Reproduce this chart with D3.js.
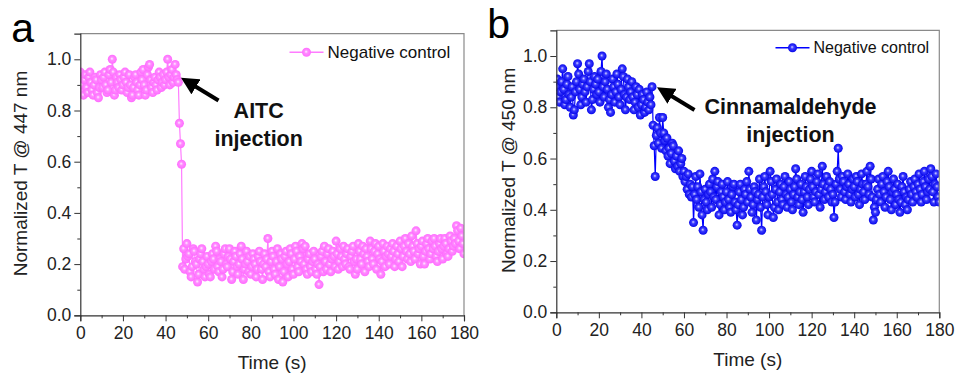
<!DOCTYPE html>
<html>
<head>
<meta charset="utf-8">
<script src="https://cdn.jsdelivr.net/npm/d3@7"></script>
<style>
  body { margin: 0; background: #fff; }
  text { font-family: Arial, "Liberation Sans", sans-serif; }
</style>
</head>
<body>
<script>
// sampling interval of both traces (s)
const timeStep = 0.5;

// panel a: normalized T @ 447 nm, AITC injection
const aitcValues = [
  0.95, 0.90, 0.87, 0.86, 0.92, 0.94, 0.89, 0.87, 0.93, 0.95,
  0.91, 0.88, 0.86, 0.90, 0.93, 0.92, 0.87, 0.85, 0.89, 0.94,
  0.92, 0.89, 0.93, 0.95, 0.90, 0.87, 0.88, 0.94, 0.96, 0.91,
  1.00, 0.95, 0.86, 0.88, 0.93, 0.91, 0.89, 0.94, 0.92, 0.88,
  0.90, 0.93, 0.95, 0.91, 0.87, 0.89, 0.94, 0.90, 0.85, 0.86,
  0.89, 0.93, 0.94, 0.91, 0.88, 0.86, 0.90, 0.95, 0.92, 0.96,
  0.90, 0.86, 0.88, 0.94, 0.97, 0.98, 0.92, 0.89, 0.87, 0.91,
  0.93, 0.90, 0.88, 0.92, 0.95, 0.93, 0.89, 0.91, 0.94, 0.90,
  0.92, 0.95, 1.00, 0.93, 0.90, 0.94, 0.96, 0.91, 0.93, 0.98,
  0.94, 0.92, 0.91, 0.75, 0.67, 0.59, 0.19, 0.26, 0.18, 0.22,
  0.28, 0.23, 0.24, 0.17, 0.15, 0.19, 0.26, 0.25, 0.21, 0.20,
  0.13, 0.16, 0.22, 0.24, 0.26, 0.21, 0.18, 0.15, 0.19, 0.23,
  0.20, 0.16, 0.15, 0.21, 0.24, 0.22, 0.18, 0.27, 0.25, 0.19,
  0.17, 0.22, 0.21, 0.15, 0.18, 0.24, 0.26, 0.20, 0.19, 0.23,
  0.26, 0.22, 0.14, 0.17, 0.21, 0.25, 0.23, 0.19, 0.16, 0.20,
  0.24, 0.27, 0.22, 0.14, 0.18, 0.20, 0.25, 0.21, 0.17, 0.23,
  0.16, 0.19, 0.24, 0.22, 0.20, 0.15, 0.18, 0.23, 0.25, 0.21,
  0.18, 0.14, 0.20, 0.24, 0.19, 0.22, 0.30, 0.17, 0.15, 0.21,
  0.25, 0.23, 0.18, 0.16, 0.21, 0.26, 0.14, 0.19, 0.24, 0.22,
  0.13, 0.17, 0.23, 0.25, 0.20, 0.15, 0.21, 0.26, 0.24, 0.18,
  0.16, 0.22, 0.27, 0.25, 0.19, 0.17, 0.23, 0.21, 0.28, 0.26,
  0.20, 0.27, 0.18, 0.16, 0.22, 0.24, 0.19, 0.17, 0.21, 0.25,
  0.22, 0.18, 0.16, 0.20, 0.12, 0.19, 0.23, 0.25, 0.17, 0.27,
  0.21, 0.18, 0.24, 0.26, 0.20, 0.17, 0.22, 0.25, 0.23, 0.19,
  0.29, 0.24, 0.18, 0.21, 0.26, 0.23, 0.19, 0.27, 0.22, 0.20,
  0.24, 0.26, 0.19, 0.18, 0.23, 0.25, 0.27, 0.21, 0.16, 0.22,
  0.18, 0.28, 0.25, 0.22, 0.20, 0.27, 0.24, 0.17, 0.26, 0.23,
  0.21, 0.19, 0.29, 0.26, 0.22, 0.20, 0.25, 0.28, 0.18, 0.24,
  0.27, 0.22, 0.16, 0.21, 0.28, 0.25, 0.19, 0.23, 0.27, 0.24,
  0.20, 0.26, 0.23, 0.28, 0.25, 0.19, 0.22, 0.27, 0.24, 0.21,
  0.29, 0.26, 0.19, 0.23, 0.27, 0.30, 0.25, 0.22, 0.28, 0.24,
  0.21, 0.31, 0.27, 0.25, 0.22, 0.33, 0.28, 0.24, 0.26, 0.20,
  0.27, 0.29, 0.23, 0.20, 0.25, 0.28, 0.30, 0.26, 0.22, 0.24,
  0.29, 0.26, 0.30, 0.27, 0.23, 0.21, 0.25, 0.28, 0.30, 0.26,
  0.22, 0.27, 0.30, 0.28, 0.24, 0.23, 0.26, 0.31, 0.29, 0.25,
  0.27, 0.30, 0.28, 0.35, 0.33, 0.29, 0.26, 0.34, 0.31, 0.28,
  0.24
];

// panel b: normalized T @ 450 nm, cinnamaldehyde injection
const cinnValues = [
  0.88, 0.91, 0.84, 0.82, 0.86, 0.90, 0.95, 0.87, 0.81, 0.83,
  0.89, 0.92, 0.85, 0.80, 0.84, 0.88, 0.77, 0.79, 0.86, 0.90,
  0.97, 0.93, 0.87, 0.81, 0.84, 0.89, 0.91, 0.86, 0.82, 0.88,
  0.94, 0.97, 0.90, 0.79, 0.83, 0.87, 0.92, 0.89, 0.85, 0.91,
  0.86, 0.82, 0.94, 1.00, 0.88, 0.84, 0.90, 0.93, 0.87, 0.80,
  0.83, 0.78, 0.85, 0.91, 0.88, 0.82, 0.86, 0.93, 0.89, 0.84,
  0.81, 0.87, 0.95, 0.92, 0.85, 0.79, 0.84, 0.91, 0.88, 0.83,
  0.86, 0.90, 0.84, 0.79, 0.82, 0.88, 0.85, 0.80, 0.87, 0.77,
  0.81, 0.85, 0.83, 0.78, 0.80, 0.86, 0.82, 0.79, 0.84, 0.81,
  0.88, 0.73, 0.65, 0.53, 0.69, 0.72, 0.66, 0.76, 0.70, 0.64,
  0.76, 0.70, 0.67, 0.63, 0.68, 0.61, 0.64, 0.58, 0.62, 0.66,
  0.65, 0.59, 0.56, 0.61, 0.57, 0.63, 0.55, 0.58, 0.60, 0.53,
  0.55, 0.51, 0.53, 0.48, 0.54, 0.46, 0.50, 0.45, 0.49, 0.35,
  0.46, 0.53, 0.44, 0.49, 0.41, 0.54, 0.47, 0.38, 0.32, 0.44,
  0.48, 0.43, 0.40, 0.46, 0.50, 0.47, 0.41, 0.52, 0.45, 0.55,
  0.44, 0.49, 0.51, 0.38, 0.42, 0.47, 0.50, 0.45, 0.40, 0.43,
  0.47, 0.51, 0.44, 0.41, 0.39, 0.46, 0.49, 0.50, 0.43, 0.40,
  0.34, 0.42, 0.47, 0.50, 0.44, 0.38, 0.41, 0.48, 0.46, 0.51,
  0.43, 0.55, 0.48, 0.45, 0.39, 0.42, 0.49, 0.47, 0.36, 0.44,
  0.46, 0.52, 0.41, 0.32, 0.45, 0.49, 0.53, 0.47, 0.42, 0.38,
  0.45, 0.55, 0.51, 0.46, 0.37, 0.41, 0.48, 0.52, 0.43, 0.40,
  0.47, 0.50, 0.44, 0.42, 0.49, 0.53, 0.46, 0.41, 0.45, 0.51,
  0.48, 0.43, 0.40, 0.46, 0.49, 0.56, 0.52, 0.45, 0.42, 0.47,
  0.50, 0.44, 0.39, 0.47, 0.53, 0.49, 0.45, 0.42, 0.48, 0.52,
  0.55, 0.49, 0.45, 0.43, 0.47, 0.51, 0.54, 0.46, 0.41, 0.48,
  0.57, 0.50, 0.44, 0.47, 0.53, 0.49, 0.45, 0.51, 0.48, 0.43,
  0.46, 0.37, 0.43, 0.50, 0.55, 0.64, 0.52, 0.48, 0.45, 0.53,
  0.51, 0.47, 0.44, 0.49, 0.54, 0.50, 0.46, 0.43, 0.48, 0.52,
  0.49, 0.45, 0.53, 0.51, 0.46, 0.42, 0.48, 0.54, 0.50, 0.47,
  0.44, 0.50, 0.55, 0.49, 0.46, 0.57, 0.52, 0.45, 0.36, 0.41,
  0.39, 0.44, 0.48, 0.52, 0.46, 0.43, 0.50, 0.53, 0.47, 0.41,
  0.45, 0.51, 0.55, 0.49, 0.44, 0.40, 0.47, 0.52, 0.48, 0.42,
  0.46, 0.50, 0.44, 0.39, 0.43, 0.49, 0.53, 0.47, 0.42, 0.45,
  0.40, 0.44, 0.48, 0.51, 0.46, 0.43, 0.49, 0.52, 0.47, 0.45,
  0.50, 0.54, 0.48, 0.43, 0.46, 0.51, 0.55, 0.49, 0.44, 0.47,
  0.52, 0.48, 0.56, 0.53, 0.47, 0.43, 0.50, 0.54, 0.49, 0.45,
  0.43
];

const xTicks = [0, 20, 40, 60, 80, 100, 120, 140, 160, 180];
const xMinorTicks = [10, 30, 50, 70, 90, 110, 130, 150, 170];
const yTicks = [0.0, 0.2, 0.4, 0.6, 0.8, 1.0];
const yMinorTicks = [0.1, 0.3, 0.5, 0.7, 0.9];
const legendLabel = "Negative control";
const xTitle = "Time (s)";

const svg = d3.select("body").append("svg")
  .attr("width", 956)
  .attr("height", 374);

const defs = svg.append("defs");

function ballGradient(id, c0, c1, c2) {
  const g = defs.append("radialGradient")
    .attr("id", id)
    .attr("cx", "50%").attr("cy", "50%").attr("r", "55%")
    .attr("fx", "45%").attr("fy", "42%");
  g.append("stop").attr("offset", "0%").attr("stop-color", c0);
  g.append("stop").attr("offset", "35%").attr("stop-color", c1);
  g.append("stop").attr("offset", "100%").attr("stop-color", c2);
}
ballGradient("ballPink", "#fff0ff", "#ff8cff", "#ff66ff");
ballGradient("ballBlue", "#d8d8ff", "#3a3aff", "#0000e6");

defs.append("marker")
  .attr("id", "arrowHead")
  .attr("viewBox", "0 0 10 10")
  .attr("refX", 2).attr("refY", 5)
  .attr("markerWidth", 4.4).attr("markerHeight", 4.4)
  .attr("markerUnits", "strokeWidth")
  .attr("orient", "auto")
  .append("path")
  .attr("d", "M0,0 L10,5 L0,10 z")
  .attr("fill", "#000");

function drawPanel(p) {
  const x = d3.scaleLinear().domain([0, 180]).range([p.left, p.right]);
  const y = d3.scaleLinear().domain([0, 1.1]).range([p.bottom, p.top]);
  const g = svg.append("g");

  const clipId = "clip" + p.letter;
  defs.append("clipPath").attr("id", clipId)
    .append("rect")
    .attr("x", p.left).attr("y", p.top)
    .attr("width", p.right - p.left).attr("height", p.bottom - p.top);

  const points = p.values.map((v, i) => ({ t: i * timeStep, v: v }));

  const plot = g.append("g").attr("clip-path", `url(#${clipId})`);
  plot.append("path")
    .datum(points)
    .attr("fill", "none")
    .attr("stroke", p.color)
    .attr("stroke-width", 1.2)
    .attr("d", d3.line().x(d => x(d.t)).y(d => y(d.v)));

  plot.selectAll("circle")
    .data(points)
    .enter()
    .append("circle")
    .attr("cx", d => x(d.t))
    .attr("cy", d => y(d.v))
    .attr("r", 4.5)
    .attr("fill", `url(#${p.ball})`);

  // frame (top / right)
  g.append("path")
    .attr("d", `M${p.left},${p.top}H${p.right}V${p.bottom}`)
    .attr("fill", "none")
    .attr("stroke", "#8a8a8a")
    .attr("stroke-width", 1.2);

  // bottom axis
  g.append("g")
    .attr("transform", `translate(0,${p.bottom})`)
    .call(d3.axisBottom(x).tickValues(xTicks).tickSize(6).tickPadding(5).tickFormat(d3.format("d")));
  g.append("g")
    .attr("transform", `translate(0,${p.bottom})`)
    .call(d3.axisBottom(x).tickValues(xMinorTicks).tickSize(3).tickFormat(""))
    .select(".domain").remove();

  // left axis
  g.append("g")
    .attr("transform", `translate(${p.left},0)`)
    .call(d3.axisLeft(y).tickValues(yTicks).tickSize(6).tickPadding(3).tickFormat(d3.format(".1f")));
  g.append("g")
    .attr("transform", `translate(${p.left},0)`)
    .call(d3.axisLeft(y).tickValues(yMinorTicks).tickSize(3).tickFormat(""))
    .select(".domain").remove();

  g.selectAll(".domain").attr("stroke", "#333").attr("stroke-width", 1.2);
  g.selectAll(".tick line").attr("stroke", "#333").attr("stroke-width", 1);
  g.selectAll(".tick text")
    .attr("fill", "#222")
    .style("font-size", "17.5px")
    .style("font-family", "Arial, 'Liberation Sans', sans-serif");

  // axis titles
  g.append("text")
    .attr("x", (p.left + p.right) / 2)
    .attr("y", p.bottom + 54)
    .attr("text-anchor", "middle")
    .attr("fill", "#222")
    .style("font-size", "19px")
    .text(xTitle);

  g.append("text")
    .attr("transform", `translate(${p.yTitleX},${(p.top + p.bottom) / 2 - 1}) rotate(-90)`)
    .attr("text-anchor", "middle")
    .attr("dominant-baseline", "central")
    .attr("fill", "#222")
    .style("font-size", "19px")
    .text(p.yTitle);

  // panel letter
  g.append("text")
    .attr("x", p.left - 69)
    .attr("y", p.top + 8)
    .attr("fill", "#000")
    .style("font-size", "41px")
    .text(p.letter);

  // legend
  const lg = g.append("g");
  lg.append("line")
    .attr("x1", p.legendX).attr("x2", p.legendX + 34)
    .attr("y1", p.legendY).attr("y2", p.legendY)
    .attr("stroke", p.color).attr("stroke-width", 1.5);
  lg.append("circle")
    .attr("cx", p.legendX + 17).attr("cy", p.legendY)
    .attr("r", 4.5)
    .attr("fill", `url(#${p.ball})`);
  lg.append("text")
    .attr("x", p.legendX + 38)
    .attr("y", p.legendY + 5.5)
    .attr("fill", "#111")
    .style("font-size", p.legendSize + "px")
    .text(legendLabel);

  // injection annotation
  g.append("line")
    .attr("x1", p.arrow[2]).attr("y1", p.arrow[3])
    .attr("x2", p.arrow[0]).attr("y2", p.arrow[1])
    .attr("stroke", "#000")
    .attr("stroke-width", 4)
    .attr("marker-end", "url(#arrowHead)");

  p.note.forEach((line, i) => {
    g.append("text")
      .attr("x", p.noteX)
      .attr("y", p.noteY + i * 27.5)
      .attr("text-anchor", "middle")
      .attr("fill", "#111")
      .style("font-size", "21.5px")
      .style("font-weight", "bold")
      .text(line);
  });
}

drawPanel({
  letter: "a",
  left: 80.3, right: 464, top: 33.7, bottom: 315.3,
  values: aitcValues,
  color: "#ff7cff", ball: "ballPink",
  yTitle: "Normalized T @ 447 nm", yTitleX: 20.5,
  legendX: 289.5, legendY: 52.3, legendSize: 17,
  arrow: [193, 85, 218.5, 100.5],
  note: ["AITC", "injection"], noteX: 258.7, noteY: 118.3
});

drawPanel({
  letter: "b",
  left: 556.3, right: 939.3, top: 30.4, bottom: 312.3,
  values: cinnValues,
  color: "#0000ff", ball: "ballBlue",
  yTitle: "Normalized T @ 450 nm", yTitleX: 508,
  legendX: 775.5, legendY: 47.7, legendSize: 16,
  arrow: [669, 94.5, 694.5, 110],
  note: ["Cinnamaldehyde", "injection"], noteX: 790.5, noteY: 114
});
</script>
</body>
</html>
